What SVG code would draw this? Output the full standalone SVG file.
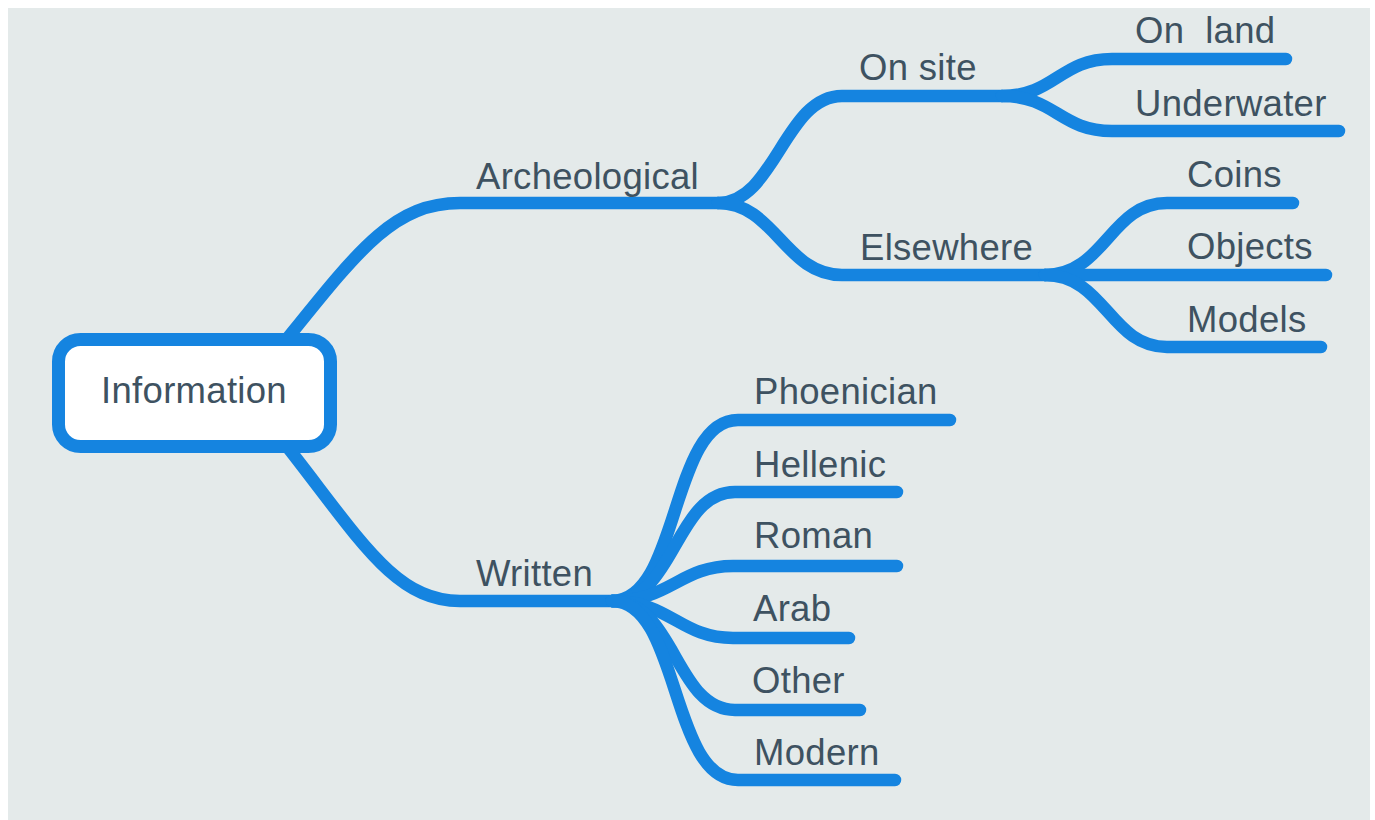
<svg xmlns="http://www.w3.org/2000/svg" width="1375" height="820" viewBox="0 0 1375 820">
  <style>
    .branch { fill: none; stroke: #1584E0; stroke-width: 12.5; stroke-linecap: round; stroke-linejoin: round; }
    .label { font-family: "Liberation Sans", Arial, sans-serif; font-size: 36.5px; fill: #3E5261; letter-spacing: 0.3px; white-space: pre; }
    .root-box { fill: #FFFFFF; stroke: #1584E0; stroke-width: 13; }
  </style>

  <!-- page -->
  <rect x="0" y="0" width="1375" height="820" fill="#FFFFFF"/>
  <rect x="8" y="8" width="1362" height="812" fill="#E4EAEA"/>

  <!-- connectors -->
  <g id="connectors">
    <!-- root to first level -->
    <path class="branch" d="M 270 360 C 355 255, 390 203, 460 203 L 718 203"/>
    <path class="branch" d="M 270 425 C 355 530, 390 601, 460 601 L 614 601"/>

    <!-- Archeological children -->
    <path class="branch" d="M 718 203 C 775 203, 785 96, 842 96 L 1002 96"/>
    <path class="branch" d="M 718 203 C 775 203, 785 275, 842 275 L 1045 275"/>

    <!-- On site children -->
    <path class="branch" d="M 1002 96 C 1055 96, 1060 59, 1112 59 L 1286 59"/>
    <path class="branch" d="M 1002 96 C 1055 96, 1060 131, 1112 131 L 1339 131"/>

    <!-- Elsewhere children -->
    <path class="branch" d="M 1045 275 C 1105 275, 1110 203, 1167 203 L 1293 203"/>
    <path class="branch" d="M 1045 275 L 1326 275"/>
    <path class="branch" d="M 1045 275 C 1105 275, 1110 347, 1167 347 L 1321 347"/>

    <!-- Written children -->
    <path class="branch" d="M 612 601 C 680 601, 670 420, 738 420 L 950 420"/>
    <path class="branch" d="M 612 601 C 675 601, 675 492, 735 492 L 897 492"/>
    <path class="branch" d="M 612 601 C 670 601, 680 566, 733 566 L 897 566"/>
    <path class="branch" d="M 612 601 C 670 601, 680 638, 733 638 L 849 638"/>
    <path class="branch" d="M 612 601 C 675 601, 675 710, 735 710 L 860 710"/>
    <path class="branch" d="M 612 601 C 680 601, 670 780, 738 780 L 895 780"/>
  </g>

  <!-- root node -->
  <g id="node-information">
    <rect class="root-box" x="58.5" y="339.5" width="272" height="107" rx="22" ry="22"/>
    <text class="label" x="194" y="403" text-anchor="middle">Information</text>
  </g>

  <g id="node-archeological"><text class="label" x="476" y="189">Archeological</text></g>
  <g id="node-on-site"><text class="label" x="859" y="80">On site</text></g>
  <g id="node-on-land"><text class="label" x="1135" y="43">On  land</text></g>
  <g id="node-underwater"><text class="label" x="1135" y="116">Underwater</text></g>
  <g id="node-elsewhere"><text class="label" x="860" y="260">Elsewhere</text></g>
  <g id="node-coins"><text class="label" x="1187" y="187">Coins</text></g>
  <g id="node-objects"><text class="label" x="1187" y="259">Objects</text></g>
  <g id="node-models"><text class="label" x="1187" y="332">Models</text></g>

  <g id="node-written"><text class="label" x="476" y="586">Written</text></g>
  <g id="node-phoenician"><text class="label" x="754" y="404">Phoenician</text></g>
  <g id="node-hellenic"><text class="label" x="754" y="477">Hellenic</text></g>
  <g id="node-roman"><text class="label" x="754" y="548">Roman</text></g>
  <g id="node-arab"><text class="label" x="753" y="621">Arab</text></g>
  <g id="node-other"><text class="label" x="752" y="693">Other</text></g>
  <g id="node-modern"><text class="label" x="754" y="765">Modern</text></g>
</svg>
